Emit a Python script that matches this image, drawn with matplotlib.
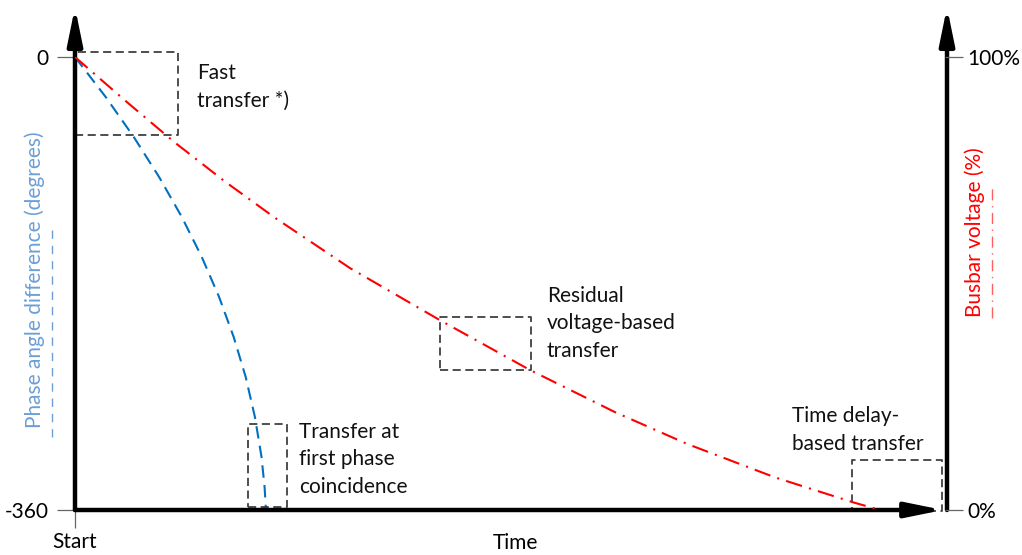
import matplotlib.pyplot as plt

plt.rcParams["font.family"] = ["Lato", "DejaVu Sans"]

# ----- data -----
# phase angle difference (degrees) vs. normalised time
phase_t = [0.0, 0.0353, 0.0676, 0.0967, 0.1228, 0.1457, 0.1656, 0.1824,
           0.1962, 0.2068, 0.2144, 0.2179, 0.2195]
phase_deg = [0, -31.8, -63.6, -95.4, -127.2, -158.9, -190.7, -222.5,
             -254.3, -286.1, -317.9, -341.7, -360]

# busbar voltage (%) vs. normalised time
volt_t = [0.0, 0.0575, 0.1149, 0.1724, 0.2299, 0.3161, 0.4195, 0.5230,
          0.6207, 0.7034, 0.8046, 0.8943, 0.9253]
volt_pct = [100, 90.4, 81.1, 72.5, 64.5, 53.4, 41.9, 30.9,
            21.6, 14.6, 7.2, 1.7, 0]

# transfer-mode windows: (t0, t1, angle_low, angle_high)
windows = [
    (0.000, 0.118, -62, 4),
    (0.420, 0.524, -249, -207),
    (0.199, 0.244, -358, -292),
    (0.893, 0.997, -361, -320),
]
# labels anchored at the baseline of their last line
window_labels = [
    (0.140, -39.7, "Fast\ntransfer *)"),
    (0.5425, -238.4, "Residual\nvoltage-based\ntransfer"),
    (0.2575, -346.5, "Transfer at\nfirst phase\ncoincidence"),
    (0.824, -312.3, "Time delay-\nbased transfer"),
]

BLUE = "#0070C0"
RED = "#FF0000"
BLUE_LBL = "#6c9fd6"
BOX = "#404040"
FS = 15

fig = plt.figure(figsize=(10.22, 5.55), dpi=100)
W, H = 1022, 555
ax = fig.add_axes([75 / W, 45 / H, 870 / W, 453 / H])
ax.set_xlim(0, 1)
ax.set_ylim(-360, 0)
ax2 = ax.twinx()
ax2.set_ylim(0, 100)

for a in (ax, ax2):
    for s in a.spines.values():
        s.set_visible(False)
    a.patch.set_visible(False)

# ticks
ax.set_yticks([-360, 0])
ax.set_yticklabels(["-360", "0"], fontsize=FS)
ax.tick_params(axis="y", length=13, width=0.9, color="#666666", pad=6)
ax.set_xticks([0])
ax.set_xticklabels(["Start"], fontsize=FS)
ax.tick_params(axis="x", length=13, width=0.9, color="#666666", pad=3)
ax2.set_yticks([0, 100])
ax2.set_yticklabels(["0%", "100%"], fontsize=FS)
ax2.tick_params(axis="y", length=13, width=0.9, color="#666666", pad=3)

# curves
ax.plot(phase_t, phase_deg, color=BLUE, lw=1.5, ls=(0, (6, 3.5)), zorder=3)
ax2.plot(volt_t, volt_pct, color=RED, lw=1.5, ls=(0, (8, 3.5, 1, 3.5)), zorder=3)

# windows
for t0, t1, lo, hi in windows:
    ax.plot([t0, t1, t1, t0, t0], [lo, lo, hi, hi, lo], color=BOX, lw=1.3,
            ls=(0, (4.5, 2.5)), clip_on=False, zorder=4)
for t, a, s in window_labels:
    ax.text(t, a, s, fontsize=FS, va="baseline", ha="left", linespacing=1.48,
            color="#111111")

# axis arrows
arrow = dict(arrowstyle="-|>,head_length=2.2,head_width=0.45", lw=3.2,
             color="black", shrinkA=0, shrinkB=0, mutation_scale=10)
ax.annotate("", xy=(0, 1.11), xytext=(0, 0), xycoords="axes fraction",
            arrowprops=arrow, zorder=5)
ax.annotate("", xy=(1.0023, 1.11), xytext=(1.0023, 0), xycoords="axes fraction",
            arrowprops=arrow, zorder=5)
ax.annotate("", xy=(0.9977, 0), xytext=(0, 0), xycoords="axes fraction",
            arrowprops=arrow, zorder=5)

# axis titles
ax.text(0.506, -0.073, "Time", transform=ax.transAxes, fontsize=FS,
        ha="center", va="center")
ax.text(-0.046, 0.508, "Phase angle difference (degrees)", transform=ax.transAxes,
        fontsize=FS, color=BLUE_LBL, rotation=90, ha="center", va="center")
ax.text(1.0345, 0.614, "Busbar voltage (%)", transform=ax.transAxes,
        fontsize=FS, color=RED, rotation=90, ha="center", va="center")
ax.plot([-0.0264, -0.0264], [0.161, 0.625], transform=ax.transAxes, color=BLUE_LBL,
        lw=1.0, ls=(0, (6, 5)), clip_on=False)
ax.plot([1.054, 1.054], [0.424, 0.717], transform=ax.transAxes, color="#ff6060",
        lw=1.0, ls=(0, (8, 4, 1, 4)), clip_on=False)

fig.savefig("out.png", dpi=100)
